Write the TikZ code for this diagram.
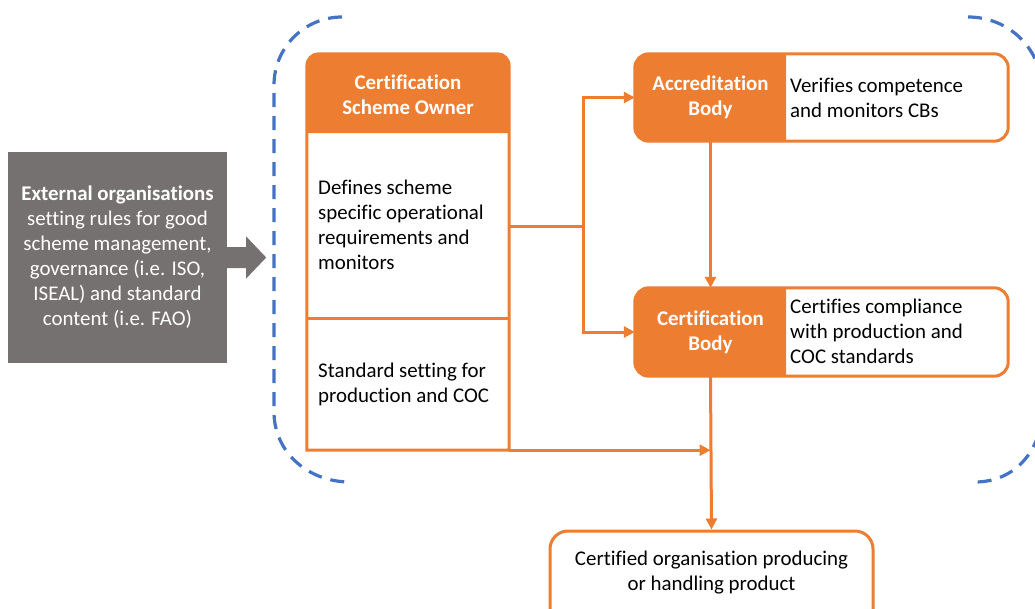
\documentclass[tikz,border=0pt]{standalone}
\usepackage{fontspec}
\setmainfont{Carlito}[Ligatures=NoCommon]
\usetikzlibrary{arrows.meta,backgrounds}
\definecolor{accent}{HTML}{ED7D31}
\definecolor{slate}{HTML}{767171}
\definecolor{bracketblue}{HTML}{4472C4}

\tikzset{
  txt/.style={font=\fontsize{20.9}{25}\selectfont},
  lbl/.style={txt, align=left, inner sep=0pt, anchor=west},
  headtxt/.style={font=\fontsize{20.9}{25}\selectfont\bfseries, text=white, align=center, inner sep=0pt},
  link/.style={draw=accent, line width=3pt},
  arr/.style={link, -{Triangle[length=11pt,width=11pt]}},
  scopeline/.style={draw=bracketblue, line width=3.2pt, dash pattern=on 14pt off 9pt}
}

\begin{document}
\begin{tikzpicture}[x=1pt,y=-1pt]
\useasboundingbox (0,0) rectangle (1035,608);
\clip (0,0) rectangle (1035,608);

% external organisations box and its arrow
\node[fill=slate, minimum width=219pt, minimum height=211pt, inner sep=0pt,
      text=white, align=center, txt] (ext) at (117.5,257.5)
  {\textbf{External organisations}\\setting rules for good\\scheme management,\\governance (i.e. ISO,\\ISEAL) and standard\\content (i.e. FAO)};
\fill[slate] ([shift={(0,-10.5)}]ext.east) -- ([shift={(19,-10.5)}]ext.east)
  -- ([shift={(19,-21)}]ext.east) -- ([shift={(39,0)}]ext.east)
  -- ([shift={(19,21)}]ext.east) -- ([shift={(19,10.5)}]ext.east)
  -- ([shift={(0,10.5)}]ext.east) -- cycle;

% scheme owner column
\node[minimum width=202pt, minimum height=396pt, inner sep=0pt] (so) at (408,252) {};
\node[headtxt] (soh) at (408,94.5) {Certification\\Scheme Owner};
\node[lbl] (soops) at (318,225) {Defines scheme\\specific operational\\requirements and\\monitors};
\node[lbl] (sostd) at (318,384) {Standard setting for\\production and COC};

% accreditation body
\node[headtxt, minimum width=151pt, minimum height=87pt] (abh) at (710.5,97.5) {Accreditation\\Body};
\node[minimum width=373pt, minimum height=87pt, inner sep=0pt] (ab) at (821.5,97.5) {};
\node[lbl] (abt) at (790,97.5) {Verifies competence\\and monitors CBs};

% certification body
\node[headtxt, minimum width=151pt, minimum height=88pt] (cbh) at (710.5,332) {Certification\\Body};
\node[minimum width=373pt, minimum height=88pt, inner sep=0pt] (cb) at (821.5,332) {};
\node[lbl] (cbt) at (790,331) {Certifies compliance\\with production and\\COC standards};

% fills behind the texts
\begin{scope}[on background layer]
  \fill[white] (0,0) rectangle (1035,608);
  \fill[accent] (so.west |- 0,133) [rounded corners=12pt] -- (so.north west) -- (so.north east)
    [sharp corners] -- (so.east |- 0,133) -- cycle;
  \foreach \h in {abh,cbh}{
    \fill[accent] (\h.south east) [rounded corners=14pt] -- (\h.south west) -- (\h.north west)
      [sharp corners] -- (\h.north east) -- cycle;
  }
\end{scope}

% outlines
\draw[link] (so.south west) [rounded corners=12pt] -- (so.north west) -- (so.north east)
  [sharp corners] -- (so.south east) -- cycle;
\draw[link] (so.west |- 0,318) -- (so.east |- 0,318);
\draw[link, rounded corners=14pt] (ab.south west) rectangle (ab.north east);
\draw[link, rounded corners=14pt] (cb.south west) rectangle (cb.north east);

% certified organisation
\node[draw=accent, line width=3pt, rounded corners=18pt, minimum width=323pt,
      minimum height=100pt, inner sep=0pt] (fin) at (711.5,581) {};
\node[txt, align=center, inner sep=0pt] (fint) at (711.5,573)
  {Certified organisation producing\\or handling product};

% connectors
\coordinate (split) at (583,226);
\draw[link] (so.east |- split) -- (split);
\draw[arr] (split) |- (abh.west);
\draw[arr] (split) |- (cbh.west);
\draw[arr] (abh.south) -- (cbh.north);
\draw[arr] (cbh.south) -- (fin.north);
\draw[arr] (so.south east) -- (so.south east -| cbh.south);

% dashed scope brackets
\draw[scopeline] (342,17) .. controls (304.4,17) and (274,47.6) .. (274,85)
  -- (274,412) .. controls (274,452) and (308,482) .. (350,482);
\draw[scopeline] (968,17) .. controls (1010,17) and (1042,50) .. (1042,90)
  -- (1042,410) .. controls (1042,450) and (1015,482) .. (975,482);
\end{tikzpicture}
\end{document}
